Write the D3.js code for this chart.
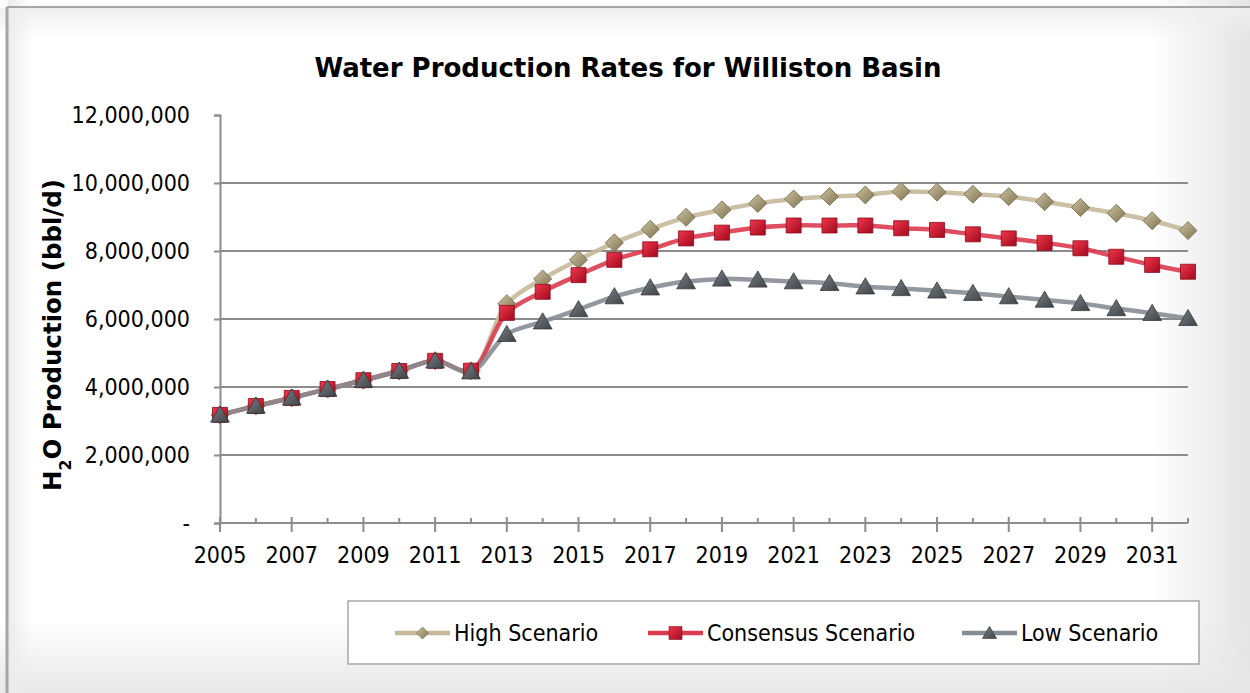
<!DOCTYPE html>
<html>
<head>
<meta charset="utf-8">
<script src="https://cdn.jsdelivr.net/npm/d3@7"></script>
<style>
  body { margin: 0; background: #fff; }
  svg text { font-family: "DejaVu Sans Condensed", "DejaVu Sans", Tahoma, sans-serif; font-stretch: condensed; fill: #000; }
</style>
</head>
<body>
<svg id="chart" width="1250" height="693"></svg>
<script>
// data (bbl/d)
const years = [2005, 2006, 2007, 2008, 2009, 2010, 2011, 2012, 2013, 2014, 2015, 2016, 2017, 2018,
  2019, 2020, 2021, 2022, 2023, 2024, 2025, 2026, 2027, 2028, 2029, 2030, 2031, 2032];
const highScenario = [3.18, 3.44, 3.68, 3.94, 4.20, 4.47, 4.77, 4.48, 6.45, 7.18, 7.74, 8.24, 8.64, 8.99,
  9.21, 9.40, 9.53, 9.60, 9.65, 9.75, 9.73, 9.67, 9.60, 9.45, 9.28, 9.11, 8.89, 8.60].map(v => v * 1e6);
const consensusScenario = [3.18, 3.44, 3.68, 3.94, 4.20, 4.47, 4.77, 4.48, 6.18, 6.80, 7.29, 7.74, 8.05, 8.37,
  8.54, 8.69, 8.75, 8.75, 8.75, 8.67, 8.62, 8.49, 8.37, 8.24, 8.08, 7.83, 7.59, 7.39].map(v => v * 1e6);
const lowScenario = [3.18, 3.44, 3.68, 3.94, 4.20, 4.47, 4.77, 4.45, 5.55, 5.92, 6.28, 6.66, 6.92, 7.10,
  7.18, 7.15, 7.10, 7.05, 6.95, 6.90, 6.83, 6.76, 6.66, 6.56, 6.46, 6.31, 6.17, 6.02].map(v => v * 1e6);
const yTicks = [0, 2e6, 4e6, 6e6, 8e6, 10e6, 12e6];
const labelYears = [2005, 2007, 2009, 2011, 2013, 2015, 2017, 2019, 2021, 2023, 2025, 2027, 2029, 2031];
const seriesNames = ["High Scenario", "Consensus Scenario", "Low Scenario"];

const svg = d3.select("#chart");
const defs = svg.append("defs");

// chart background + soft edges
function edge(id, x2, y2, color, o0, o1) {
  const g = defs.append("linearGradient").attr("id", id).attr("x1", 0).attr("y1", 0).attr("x2", x2).attr("y2", y2);
  g.append("stop").attr("offset", "0").attr("stop-color", color).attr("stop-opacity", o0);
  g.append("stop").attr("offset", "1").attr("stop-color", color).attr("stop-opacity", o1);
}
edge("edgeR", 1, 0, "#e4e4e4", 0, 1);
edge("edgeB", 0, 1, "#e8e8e8", 0, 1);
edge("edgeT", 0, 1, "#efefef", 1, 0);
edge("edgeL", 1, 0, "#ececec", 1, 0);

svg.append("rect").attr("width", 1250).attr("height", 693).attr("fill", "#fff");
svg.append("rect").attr("x", 1150).attr("y", 0).attr("width", 100).attr("height", 693).attr("fill", "url(#edgeR)");
svg.append("rect").attr("x", 0).attr("y", 620).attr("width", 1250).attr("height", 73).attr("fill", "url(#edgeB)");
svg.append("rect").attr("x", 0).attr("y", 8).attr("width", 1250).attr("height", 30).attr("fill", "url(#edgeT)");
svg.append("rect").attr("x", 8).attr("y", 0).attr("width", 25).attr("height", 693).attr("fill", "url(#edgeL)");
svg.append("line").attr("x1", 7).attr("x2", 1250).attr("y1", 7).attr("y2", 7).attr("stroke", "#a6a6a6").attr("stroke-width", 2);
svg.append("line").attr("x1", 7).attr("x2", 7).attr("y1", 7).attr("y2", 693).attr("stroke", "#a6a6a6").attr("stroke-width", 3);

// marker gradients (bevel look)
function grad(id, c0, c1) {
  const g = defs.append("linearGradient").attr("id", id).attr("x1", 0).attr("y1", 0).attr("x2", 1).attr("y2", 1);
  g.append("stop").attr("offset", "0").attr("stop-color", c0);
  g.append("stop").attr("offset", "1").attr("stop-color", c1);
}
grad("gHigh", "#cfc4a2", "#7e7250");
grad("gCons", "#f0364c", "#a10a1e");
grad("gLow", "#7a8186", "#3e4347");

const x = d3.scaleLinear().domain([2005, 2032]).range([220, 1188]);
const y = d3.scaleLinear().domain([0, 12e6]).range([523, 115]);

// gridlines
svg.append("g")
  .selectAll("line")
  .data(yTicks.filter(t => t > 0 && t < 12e6))
  .join("line")
  .attr("x1", x(2005)).attr("x2", x(2032))
  .attr("y1", d => y(d)).attr("y2", d => y(d))
  .attr("stroke", "#8c8c8c").attr("stroke-width", 2);

// y axis
const yAxis = svg.append("g")
  .attr("transform", `translate(${x(2005)},0)`)
  .call(d3.axisLeft(y).tickValues(yTicks).tickSize(6).tickPadding(24)
    .tickFormat(d => d === 0 ? "-" : d3.format(",")(d)));
yAxis.select(".domain").attr("stroke", "#8c8c8c").attr("stroke-width", 2);
yAxis.selectAll(".tick line").attr("stroke", "#8c8c8c").attr("stroke-width", 2);
yAxis.selectAll(".tick text").style("font-size", "23px").attr("fill", "#000");

// x axis
const xAxis = svg.append("g").attr("transform", `translate(0,${y(0)})`);
xAxis.append("line").attr("x1", x(2005)).attr("x2", x(2032)).attr("y1", 0).attr("y2", 0)
  .attr("stroke", "#8c8c8c").attr("stroke-width", 2);
xAxis.selectAll("line.tk")
  .data(years)
  .join("line").attr("class", "tk")
  .attr("x1", d => x(d)).attr("x2", d => x(d))
  .attr("y1", d => labelYears.includes(d) ? -6 : -5)
  .attr("y2", d => labelYears.includes(d) ? 9 : 0)
  .attr("stroke", "#8c8c8c").attr("stroke-width", 2);
xAxis.selectAll("text")
  .data(labelYears)
  .join("text")
  .attr("x", d => x(d)).attr("y", 40)
  .attr("text-anchor", "middle")
  .style("font-size", "23px")
  .text(d => d);

// title
svg.append("text")
  .attr("x", 628).attr("y", 77)
  .attr("text-anchor", "middle")
  .attr("textLength", 627).attr("lengthAdjust", "spacingAndGlyphs")
  .style("font-size", "27px").style("font-weight", "bold")
  .text("Water Production Rates for Williston Basin");

// y title
const yt = svg.append("text")
  .attr("transform", "translate(61,335) rotate(-90)")
  .attr("text-anchor", "middle")
  .attr("textLength", 312).attr("lengthAdjust", "spacingAndGlyphs")
  .style("font-size", "25px").style("font-weight", "bold");
yt.append("tspan").text("H");
yt.append("tspan").attr("baseline-shift", "sub").style("font-size", "16px").text("2");
yt.append("tspan").text("O Production (bbl/d)");

// series
const series = [
  { name: seriesNames[0], values: highScenario, color: "#c5b999", fill: "url(#gHigh)", stroke: "#6f6446", shape: "diamond" },
  { name: seriesNames[1], values: consensusScenario, color: "#dc3a4f", fill: "url(#gCons)", stroke: "#8a0a19", shape: "square" },
  { name: seriesNames[2], values: lowScenario, color: "#868d92", fill: "url(#gLow)", stroke: "#34383b", shape: "triangle" }
];

function markerPath(shape, s) {
  if (shape === "diamond") return `M0,${-s}L${s},0L0,${s}L${-s},0Z`;
  if (shape === "square") return `M${-s},${-s}H${s}V${s}H${-s}Z`;
  return `M0,${-s * 1.05}L${s * 1.1},${s * 0.85}H${-s * 1.1}Z`;
}
const sizes = { diamond: 9, square: 7.5, triangle: 8.5 };

const line = d3.line()
  .x((d, i) => x(years[i]))
  .y(d => y(d))
  .curve(d3.curveCatmullRom.alpha(0.5));

series.forEach(s => {
  svg.append("path")
    .attr("d", line(s.values))
    .attr("fill", "none")
    .attr("stroke", s.color)
    .attr("stroke-width", 4.5)
    .attr("stroke-opacity", 0.9);
});
series.forEach(s => {
  svg.append("g")
    .selectAll("path")
    .data(s.values)
    .join("path")
    .attr("transform", (d, i) => `translate(${x(years[i])},${y(d)})`)
    .attr("d", markerPath(s.shape, sizes[s.shape]))
    .attr("fill", s.fill)
    .attr("stroke", s.stroke)
    .attr("stroke-width", 0.8);
});

// legend
const legend = svg.append("g");
legend.append("rect")
  .attr("x", 348).attr("y", 601).attr("width", 851).attr("height", 63)
  .attr("fill", "#fff").attr("stroke", "#a6a6a6").attr("stroke-width", 1.5);
const legendX = [395, 648, 962];
series.forEach((s, i) => {
  const lg = legend.append("g").attr("transform", `translate(${legendX[i]},633)`);
  lg.append("line").attr("x1", 0).attr("x2", 55).attr("y1", 0).attr("y2", 0)
    .attr("stroke", s.color).attr("stroke-width", 4.5);
  lg.append("path")
    .attr("transform", "translate(27.5,0)")
    .attr("d", markerPath(s.shape, s.shape === "diamond" ? 6 : 6.5))
    .attr("fill", s.fill).attr("stroke", s.stroke).attr("stroke-width", 0.6);
  lg.append("text")
    .attr("x", 59).attr("y", 8)
    .style("font-size", "23px")
    .text(s.name);
});
</script>
</body>
</html>
